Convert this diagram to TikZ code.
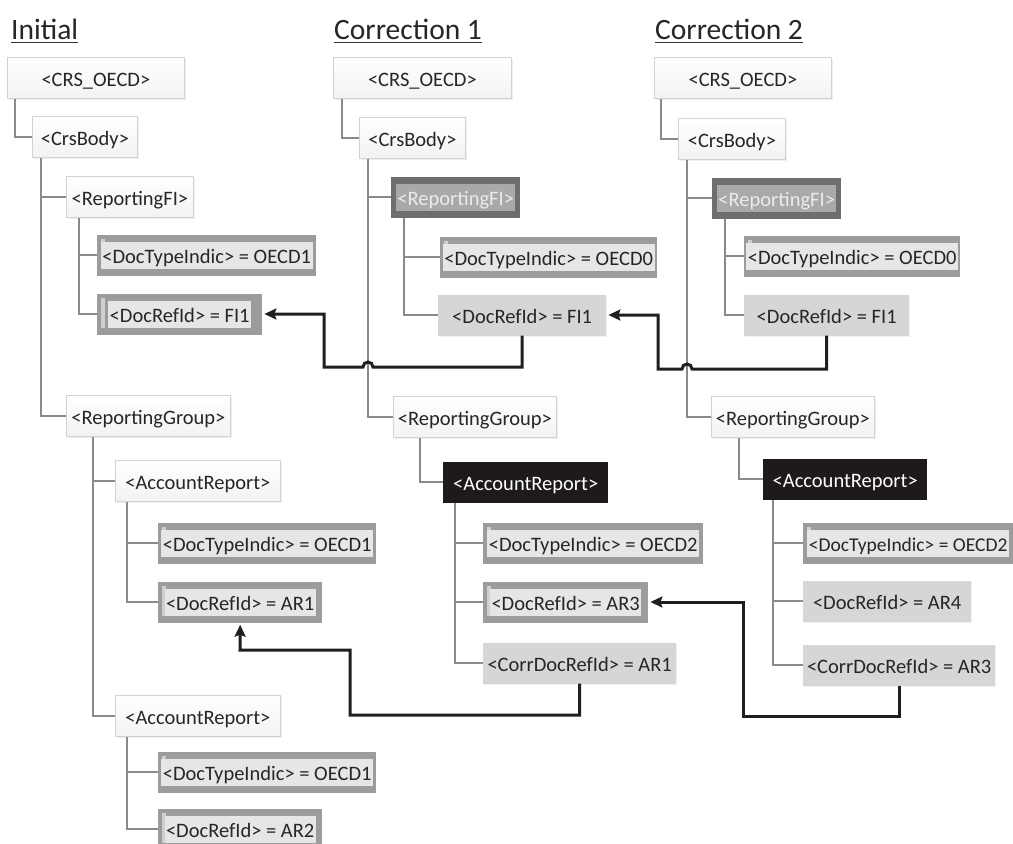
\documentclass[tikz,border=0pt]{standalone}
\usepackage{fontspec}
\setmainfont{Carlito}
\usepackage{xcolor}
\usetikzlibrary{arrows.meta}
\usetikzlibrary{shadows}

\definecolor{treegray}{HTML}{8A8A8A}
\definecolor{boxline}{HTML}{D2D2D2}
\definecolor{boxtext}{HTML}{262626}
\definecolor{oldouter}{HTML}{9C9C9C}
\definecolor{oldinner}{HTML}{E6E6E8}
\definecolor{oldstrip}{HTML}{CFCFCF}
\definecolor{chgouter}{HTML}{6E6E6E}
\definecolor{chginner}{HTML}{A9A9A9}
\definecolor{addfill}{HTML}{D6D6D6}
\definecolor{newfill}{HTML}{1E1A1A}

% highlighted text inside a framed box
\newcommand{\hl}[2]{{\setlength{\fboxsep}{1.5pt}\colorbox{#1}{\rule[-4pt]{0pt}{24pt}#2}}}

\tikzset{
  xmlbox/.style={anchor=west, minimum height=41, inner sep=0pt, text height=16pt, text depth=0pt, text=boxtext},
  plainbox/.style={xmlbox, draw=boxline, line width=0.8pt, top color=white, bottom color=black!5,
    drop shadow={opacity=0.12, shadow xshift=1.5pt, shadow yshift=-1.5pt}},
  oldbox/.style={xmlbox, fill=oldouter,
    path picture={\fill[oldstrip] ([xshift=4pt,yshift=-4pt]path picture bounding box.north west) rectangle ([xshift=8pt,yshift=7pt]path picture bounding box.south west);}},
  chgbox/.style={xmlbox, fill=chgouter, text=white!92!black},
  addbox/.style={xmlbox, fill=addfill,
    drop shadow={opacity=0.10, shadow xshift=1pt, shadow yshift=-1.5pt}},
  newbox/.style={xmlbox, fill=newfill, text=white},
  tree/.style={draw=treegray, line width=1.5pt},
  refarrow/.style={draw=black!88, line width=3pt, shorten >=2pt, -{Stealth[length=12pt,width=11pt,inset=2pt]}},
  title/.style={anchor=base west, inner sep=0pt, text=black!85, font=\fontsize{29.5}{34}\selectfont}
}

\begin{document}
\begin{tikzpicture}[x=1pt, y=-1pt, font=\fontsize{20.5}{24}\selectfont]
\useasboundingbox (0,0) rectangle (1013,844);
\clip (0,0) rectangle (1013,844);
\fill[white] (0,0) rectangle (1013,844);

%%% Titles
\node[title] (tA) at (11,39) {Initial};
\node[title] (tB) at (334,39) {Correction 1};
\node[title] (tC) at (655,39) {Correction 2};
\foreach \t in {tA,tB,tC}
  \draw[line width=1.5pt, black!80] ([yshift=-3.5pt]\t.base west) -- ([yshift=-3.5pt]\t.base east);

%%% Initial
% draws boxes
\node[plainbox, minimum width=177] (crsA) at (7,78) {<CRS\_OECD>};
\node[plainbox, minimum width=105] (bodyA) at (32,137) {<CrsBody>};
\node[plainbox, minimum width=127] (rfiA) at (66,197) {<ReportingFI>};
\node[oldbox, minimum width=219] (dtiA) at (97,255) {\hl{oldinner}{<DocTypeIndic> = OECD1}};
\node[oldbox, minimum width=165] (refA) at (97,314) {\hl{oldinner}{<DocRefId> = FI1}};
\node[plainbox, minimum width=164] (rgA) at (66,416) {<ReportingGroup>};
\node[plainbox, minimum width=165] (arA) at (115,481) {<AccountReport>};
\node[oldbox, minimum width=218] (dtarA) at (158,543) {\hl{oldinner}{<DocTypeIndic> = OECD1}};
\node[oldbox, minimum width=164] (refarA) at (158,602) {\hl{oldinner}{<DocRefId> = AR1}};
\node[plainbox, minimum width=165] (arAA) at (115,716) {<AccountReport>};
\node[oldbox, minimum width=218] (dtarAA) at (158,772) {\hl{oldinner}{<DocTypeIndic> = OECD1}};
\node[oldbox, minimum width=164] (refarAA) at (158,829) {\hl{oldinner}{<DocRefId> = AR2}};
% draws tree lines
\draw[tree] ([xshift=8]crsA.south west) |- (bodyA.west);
\draw[tree] ([xshift=9]bodyA.south west) |- (rfiA.west);
\draw[tree] ([xshift=9]bodyA.south west) |- (rgA.west);
\draw[tree] ([xshift=13]rfiA.south west) |- (dtiA.west);
\draw[tree] ([xshift=13]rfiA.south west) |- (refA.west);
\draw[tree] ([xshift=27]rgA.south west) |- (arA.west);
\draw[tree] ([xshift=27]rgA.south west) |- (arAA.west);
\draw[tree] ([xshift=12]arA.south west) |- (dtarA.west);
\draw[tree] ([xshift=12]arA.south west) |- (refarA.west);
\draw[tree] ([xshift=12]arAA.south west) |- (dtarAA.west);
\draw[tree] ([xshift=12]arAA.south west) |- (refarAA.west);

%%% Correction 1
% draws boxes
\node[plainbox, minimum width=178] (crsB) at (333,78) {<CRS\_OECD>};
\node[plainbox, minimum width=106] (bodyB) at (359,138) {<CrsBody>};
\node[chgbox, minimum width=129] (rfiB) at (391,197) {\hl{chginner}{<ReportingFI>}};
\node[oldbox, minimum width=217] (dtiB) at (440,257) {\hl{oldinner}{<DocTypeIndic> = OECD0}};
\node[addbox, minimum width=168] (refB) at (438,315) {<DocRefId> = FI1};
\node[plainbox, minimum width=163] (rgB) at (393,417) {<ReportingGroup>};
\node[newbox, minimum width=165] (arB) at (443,482) {<AccountReport>};
\node[oldbox, minimum width=220] (dtarB) at (483,543) {\hl{oldinner}{<DocTypeIndic> = OECD2}};
\node[oldbox, minimum width=165] (refarB) at (483,602) {\hl{oldinner}{<DocRefId> = AR3}};
\node[addbox, minimum width=193] (corrB) at (483,663) {<CorrDocRefId> = AR1};
% draws tree lines
\draw[tree] ([xshift=9]crsB.south west) |- (bodyB.west);
\draw[tree] ([xshift=9]bodyB.south west) |- (rfiB.west);
\draw[tree] ([xshift=9]bodyB.south west) |- (rgB.west);
\draw[tree] ([xshift=13]rfiB.south west) |- (dtiB.west);
\draw[tree] ([xshift=13]rfiB.south west) |- (refB.west);
\draw[tree] ([xshift=27]rgB.south west) |- (arB.west);
\draw[tree] ([xshift=12]arB.south west) |- (dtarB.west);
\draw[tree] ([xshift=12]arB.south west) |- (refarB.west);
\draw[tree] ([xshift=12]arB.south west) |- (corrB.west);

%%% Correction 2
% draws boxes
\node[plainbox, minimum width=177] (crsC) at (654,78) {<CRS\_OECD>};
\node[plainbox, minimum width=107] (bodyC) at (678,139) {<CrsBody>};
\node[chgbox, minimum width=129] (rfiC) at (712,198) {\hl{chginner}{<ReportingFI>}};
\node[oldbox, minimum width=216] (dtiC) at (744,256) {\hl{oldinner}{<DocTypeIndic> = OECD0}};
\node[addbox, minimum width=165] (refC) at (744,315) {<DocRefId> = FI1};
\node[plainbox, minimum width=163] (rgC) at (711,417) {<ReportingGroup>};
\node[newbox, minimum width=164] (arC) at (763,479) {<AccountReport>};
\node[oldbox, minimum width=210, font=\fontsize{19.5}{23}\selectfont] (dtarC) at (803,543) {\hl{oldinner}{<DocTypeIndic> = OECD2}};
\node[addbox, minimum width=168] (refarC) at (803,601) {<DocRefId> = AR4};
\node[addbox, minimum width=192] (corrC) at (803,665) {<CorrDocRefId> = AR3};
% draws tree lines
\draw[tree] ([xshift=7]crsC.south west) |- (bodyC.west);
\draw[tree] ([xshift=9]bodyC.south west) |- (rfiC.west);
\draw[tree] ([xshift=9]bodyC.south west) |- (rgC.west);
\draw[tree] ([xshift=13]rfiC.south west) |- (dtiC.west);
\draw[tree] ([xshift=13]rfiC.south west) |- (refC.west);
\draw[tree] ([xshift=28]rgC.south west) |- (arC.west);
\draw[tree] ([xshift=10]arC.south west) |- (dtarC.west);
\draw[tree] ([xshift=10]arC.south west) |- (refarC.west);
\draw[tree] ([xshift=10]arC.south west) |- (corrC.west);

%%% Reference arrows
% FI references, hopping over the tree lines
\draw[refarrow] (refB.south) |- (373,367) arc[start angle=0, end angle=180, radius=5pt] -| (324,314) -- (refA.east);
\draw[refarrow] (refC.south) |- (692,369) arc[start angle=0, end angle=180, radius=5pt] -| (658,315) -- (refB.east);
% account report references
\draw[refarrow] (corrB.south) |- (350,715) |- (240,650) -- (refarA.south);
\draw[refarrow] (corrC.south) |- (743,716) |- (refarB.east);
\end{tikzpicture}
\end{document}
